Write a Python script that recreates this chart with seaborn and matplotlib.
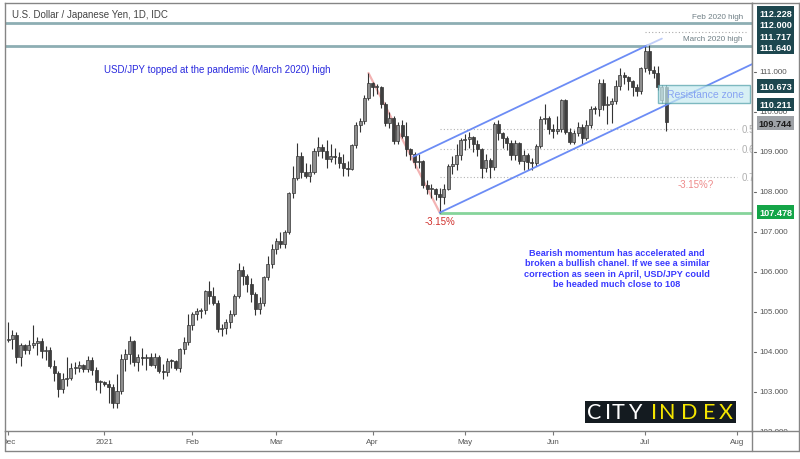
import numpy as np
import pandas as pd
import matplotlib
matplotlib.use("Agg")
import matplotlib.pyplot as plt
import seaborn as sns
from matplotlib.patches import Rectangle
from matplotlib.lines import Line2D
from matplotlib.transforms import Bbox, TransformedBbox

# ---------------- data ----------------
dates = pd.bdate_range("2020-12-01", "2021-07-08")

opens = [
    # Dec
    104.30,104.33,104.43,103.86,104.16,104.05,104.16,104.22,104.27,104.02,104.05,103.64,103.48,103.08,103.33,103.35,103.60,103.60,103.67,103.56,103.80,103.55,103.24,
    # Jan
    103.25,103.20,103.13,102.71,103.03,103.82,103.94,104.26,103.75,103.88,103.85,103.87,103.68,103.88,103.53,103.49,103.78,103.76,103.60,104.06,104.25,
    # Feb
    104.68,104.95,105.03,105.04,105.52,105.40,105.22,104.57,104.59,104.74,104.95,105.40,106.05,105.90,105.70,105.44,105.08,105.23,105.87,106.19,
    # Mar
    106.57,106.76,106.69,107.00,107.96,108.35,108.89,108.49,108.40,108.50,109.03,109.13,109.03,108.83,108.89,108.88,108.72,108.59,108.58,109.16,109.66,109.78,110.35,
    # Apr
    110.72,110.62,110.62,110.19,109.73,109.85,109.27,109.67,109.39,109.06,108.94,108.74,108.78,108.17,108.08,108.08,107.95,107.88,108.08,108.65,108.69,108.93,
    # May
    109.30,109.31,109.37,109.20,109.08,108.60,108.80,108.62,109.69,109.46,109.35,109.22,108.91,109.21,108.76,108.92,108.74,108.73,109.14,109.83,109.84,
    # Jun
    109.56,109.52,109.56,110.30,109.50,109.24,109.48,109.63,109.34,109.67,110.07,110.06,110.71,110.17,110.20,110.28,110.65,110.93,110.87,110.77,110.62,110.53,
    # Jul
    111.09,111.53,111.05,110.97,110.30,110.62,
]
highs = [
    104.75,104.55,104.50,104.22,104.20,104.30,104.66,104.38,104.34,104.15,104.12,103.80,103.53,103.48,103.88,103.72,103.75,103.78,103.70,103.89,103.86,103.62,103.30,
    103.28,103.30,103.20,103.44,103.95,104.08,104.40,104.30,103.95,104.10,103.95,103.96,103.98,103.92,103.70,103.85,103.82,103.80,104.10,104.38,104.95,
    105.00,105.10,105.10,105.55,105.77,105.62,105.30,104.70,104.82,105.05,105.45,106.22,106.15,105.95,105.85,105.50,105.38,105.90,106.40,106.70,
    106.85,107.00,107.05,108.00,108.65,109.23,109.00,108.72,108.70,109.10,109.36,109.20,109.30,109.20,109.10,109.00,108.95,108.78,109.20,109.75,109.85,110.42,110.97,
    110.75,110.70,110.65,110.25,110.00,109.90,109.75,109.80,109.75,109.10,109.00,108.95,108.80,108.30,108.20,108.10,108.10,108.20,108.70,108.90,109.20,109.35,
    109.45,109.50,109.40,109.30,109.10,108.95,108.85,109.75,109.80,109.50,109.40,109.30,109.30,109.25,109.05,108.98,108.85,109.20,109.90,110.20,109.90,
    109.70,109.90,110.33,110.33,109.60,109.55,109.75,109.70,109.80,110.15,110.15,110.82,110.82,110.40,110.35,110.80,111.10,111.00,110.90,110.80,110.70,111.12,
    111.64,111.66,111.15,111.15,110.68,110.66,
]
lows = [
    104.25,104.07,103.73,103.65,103.95,103.95,104.09,103.92,103.85,103.80,103.60,103.28,102.87,102.96,103.15,103.30,103.45,103.50,103.50,103.50,103.42,103.05,102.98,
    103.15,102.72,102.60,102.59,102.95,103.52,103.70,103.65,103.52,103.68,103.55,103.65,103.60,103.47,103.32,103.40,103.60,103.55,103.50,103.95,104.18,
    104.55,104.80,104.85,104.95,105.20,105.18,104.50,104.40,104.45,104.60,104.90,105.35,105.68,105.50,105.25,104.92,104.95,105.15,105.80,106.10,
    106.45,106.60,106.60,106.95,107.85,108.30,108.35,108.35,108.25,108.45,108.90,108.85,108.60,108.75,108.70,108.60,108.40,108.40,108.55,109.10,109.50,109.70,110.30,
    110.40,110.45,110.10,109.65,109.60,109.20,109.20,109.35,108.90,108.80,108.60,108.60,108.10,107.95,107.85,107.80,107.48,107.70,108.05,108.45,108.55,108.80,
    109.05,109.10,109.00,108.90,108.35,108.50,108.35,108.55,109.30,109.10,109.05,108.80,108.80,108.70,108.55,108.55,108.55,108.65,109.10,109.70,109.45,
    109.35,109.45,109.50,109.45,109.20,109.20,109.40,109.20,109.30,109.60,109.95,109.90,110.05,109.70,109.72,110.20,110.55,110.70,110.55,110.40,110.40,110.45,
    111.00,110.95,110.85,110.55,110.22,109.52,
]
closes = [
    104.33,104.43,103.86,104.16,104.05,104.16,104.22,104.27,104.02,104.05,103.64,103.48,103.08,103.33,103.35,103.60,103.60,103.67,103.56,103.80,103.55,103.24,103.25,
    103.20,103.13,102.71,103.03,103.82,103.94,104.26,103.75,103.88,103.85,103.87,103.68,103.88,103.53,103.49,103.78,103.76,103.60,104.06,104.25,104.68,
    104.95,105.03,105.04,105.52,105.40,105.22,104.57,104.59,104.74,104.95,105.40,106.05,105.90,105.70,105.44,105.08,105.23,105.87,106.19,106.57,
    106.76,106.69,107.00,107.96,108.35,108.89,108.49,108.40,108.50,109.03,109.13,109.03,108.83,108.89,108.88,108.72,108.59,108.58,109.16,109.66,109.78,110.35,110.72,
    110.62,110.62,110.19,109.73,109.85,109.27,109.67,109.39,109.06,108.94,108.74,108.78,108.17,108.08,108.08,107.95,107.88,108.08,108.65,108.69,108.93,109.30,
    109.31,109.37,109.20,109.08,108.60,108.80,108.62,109.69,109.46,109.35,109.22,108.91,109.21,108.76,108.92,108.74,108.73,109.14,109.83,109.84,109.56,
    109.52,109.56,110.30,109.50,109.24,109.48,109.63,109.34,109.67,110.07,110.06,110.71,110.17,110.20,110.28,110.65,110.93,110.87,110.77,110.62,110.53,111.09,
    111.53,111.05,110.97,110.62,110.62,109.744,
]

month_labels = ["Dec", "2021", "Feb", "Mar", "Apr", "May", "Jun", "Jul", "Aug"]
y_ticks = [102, 103, 104, 105, 106, 107, 108, 109, 110, 111]

# key levels
feb2020_high = 112.228
mar2020_level = 112.000
channel_top_level = 111.640
res_top, res_bot = 110.673, 110.211
last_price = 109.744
april_low = 107.478
fib_levels = [109.57, 109.07, 108.37]
fib_names = ["0.5", "0.6", "0.7"]   # visible part of the fib labels

# channel anchors (bar index, price)
upper_channel = ([96.7, 152.5], [108.88, 111.66])
upper_ext = ([152.5, 156.0], [111.66, 111.83])
lower_channel = ([103.0, 177.5], [107.48, 111.19])
april_drop = ([86.0, 103.0], [110.97, 107.48])

price_labels = ["112.228", "112.000", "111.717", "111.640", "110.673", "110.211", "109.744", "107.478"]
label_y = [112.47, 112.19, 111.89, 111.62, 110.64, 110.18, 109.72, 107.49]
label_bg = ["#1d474f"] * 6 + ["#9ea2a7", "#14a548"]
label_fg = ["white"] * 6 + ["#1a1a1a", "white"]

df = pd.DataFrame({"date": dates, "open": opens, "high": highs, "low": lows, "close": closes})
df["i"] = np.arange(len(df))

# ---------------- figure ----------------
sns.set_theme(style="white")
plt.rcParams["font.family"] = ["Liberation Sans", "DejaVu Sans"]

W, H = 800, 460
fig = plt.figure(figsize=(8, 4.6), dpi=100)
L, R, T, B = 5, 752, 4, 432
ax = fig.add_axes([L / W, 1 - B / H, (R - L) / W, (B - T) / H])
ax_r = fig.add_axes([R / W, 1 - B / H, (799 - R) / W, (B - T) / H])

XMIN, XMAX = -0.72, 177.5
YMIN, YMAX = 102.02, 112.72
ax.set_xlim(XMIN, XMAX)
ax.set_ylim(YMIN, YMAX)
ax_r.set_ylim(YMIN, YMAX)
ax_r.set_xlim(0, 47)

frame_c = "#858585"
for a in (ax, ax_r):
    for s in a.spines.values():
        s.set_color(frame_c)
        s.set_linewidth(1.0)
ax_r.set_xticks([])
ax_r.set_yticks([])
ax.set_yticks([])

# candles
up = df["close"] >= df["open"]
body = (df["close"] - df["open"]).abs().clip(lower=0.025)
bot = df[["open", "close"]].min(axis=1)
ax.vlines(df["i"], df["low"], df["high"], color="#333333", lw=0.8, zorder=3)
ax.bar(df["i"][up], body[up], bottom=bot[up], width=0.72, color="#8e8e8e",
       edgecolor="#333333", linewidth=0.5, zorder=4)
ax.bar(df["i"][~up], body[~up], bottom=bot[~up], width=0.72, color="#3f3f3f",
       edgecolor="#333333", linewidth=0.5, zorder=4)

# horizontal levels
ax.axhline(feb2020_high, color="#8daeb3", lw=2, zorder=2)
ax.axhline(channel_top_level, color="#8daeb3", lw=2, zorder=2)
ax.plot([152, 176], [mar2020_level, mar2020_level], color="#aaaaaa", lw=0.8, ls=(0, (1, 2)), zorder=2)
ax.plot([103, XMAX], [april_low, april_low], color="#86d49b", lw=2, zorder=2)
for lv, nm in zip(fib_levels, fib_names):
    ax.plot([103, 174], [lv, lv], color="#b3b3b3", lw=0.8, ls=(0, (1, 2)), zorder=2)
    ax.text(175.0, lv, nm, color="#b0b0b0", fontsize=7, va="center", ha="left", clip_on=True)

# channel & drop lines via seaborn
sns.lineplot(x=april_drop[0], y=april_drop[1], ax=ax, color="#f3b3b3", lw=1.6, zorder=2)
sns.lineplot(x=upper_channel[0], y=upper_channel[1], ax=ax, color="#6c8cf5", lw=1.3, zorder=5)
sns.lineplot(x=upper_ext[0], y=upper_ext[1], ax=ax, color="#bfcdf8", lw=1.3, zorder=5)
sns.lineplot(x=lower_channel[0], y=lower_channel[1], ax=ax, color="#6c8cf5", lw=1.3, zorder=5)
ax.set_xlabel("")
ax.set_ylabel("")

# resistance zone
ax.add_patch(Rectangle((155.0, res_bot), XMAX - 155.4, res_top - res_bot,
                       facecolor="#c6ebf0", edgecolor="#4f9fa9", lw=1.0, alpha=0.7, zorder=6))
ax.text(166.3, (res_top + res_bot) / 2, "Resistance zone", color="#87a3f2", fontsize=7.5,
        ha="center", va="center", zorder=7)

# level texts
ax.text(175.3, 112.39, "Feb 2020 high", color="#6f7f85", fontsize=5.8, ha="right", va="center")
ax.text(175.3, 111.84, "March 2020 high", color="#6f7f85", fontsize=5.8, ha="right", va="center")
ax.text(103.0, 107.26, "-3.15%", color="#d0302c", fontsize=7, ha="center", va="center")
ax.text(164.0, 108.19, "-3.15%?", color="#ee8a8a", fontsize=7, ha="center", va="center")

# x ticks at first bar of each month
all_days = pd.bdate_range("2020-12-01", "2021-08-06")
per = all_days.to_period("M")
first_idx = [int(np.where(per == p)[0][0]) for p in per.unique()]
ax.set_xticks(first_idx)
ax.set_xticklabels(month_labels)
ax.tick_params(axis="x", direction="out", length=3, width=0.8, color="#777777",
               labelsize=5.8, labelcolor="#555555", pad=2, bottom=True)
clipbox = TransformedBbox(Bbox([[L / W, 0], [1, 1]]), fig.transFigure)
for lab in ax.get_xticklabels():
    lab.set_clip_box(clipbox)
    lab.set_clip_on(True)

# right price scale
for v in y_ticks:
    ax_r.plot([1.8, 4.2], [v, v], color="#666666", lw=0.8, clip_on=True)
    ax_r.text(7.5, v, f"{v:.3f}", color="#555555", fontsize=5.8, ha="left", va="center", clip_on=True)
for s, yv, bg, fg in zip(price_labels, label_y, label_bg, label_fg):
    ax_r.text(23.5, yv, s, color=fg, fontsize=6.6, fontweight="bold", ha="center", va="center",
              bbox=dict(boxstyle="square,pad=0.25", fc=bg, ec="none"), zorder=5)

# bottom strip frame
def fline(x0, y0, x1, y1):
    fig.add_artist(Line2D([x0 / W, x1 / W], [1 - y0 / H, 1 - y1 / H], color=frame_c, lw=1.0))
fline(L, 452, 799, 452)
fline(L, B, L, 452)
fline(799, B, 799, 452)
fline(R, B, R, 452)

# title & annotations
fig.text(12 / W, 1 - 15 / H, "U.S. Dollar / Japanese Yen, 1D, IDC", color="#444444",
         fontsize=7, ha="left", va="center")
fig.text(217 / W, 1 - 70 / H, "USD/JPY topped at the pandemic (March 2020) high",
         color="#2a2ade", fontsize=7, ha="center", va="center")
fig.text(617 / W, 1 - 269 / H,
         "Bearish momentum has accelerated and\nbroken a bullish chanel. If we see a similar\n"
         "correction as seen in April, USD/JPY could\nbe headed much close to 108",
         color="#3a3aff", fontsize=6.6, fontweight="bold", ha="center", va="center", linespacing=1.2)

# CITY INDEX logo
fig.add_artist(Rectangle((585 / W, 1 - 424 / H), (736 - 585) / W, 22 / H,
                         transform=fig.transFigure, facecolor="#141b20", edgecolor="none"))
letters = [("C", 587, "white"), ("I", 605, "white"), ("T", 612, "white"), ("Y", 628, "white"),
           ("I", 651, "#f5e600"), ("N", 659, "#f5e600"), ("D", 681, "#f5e600"),
           ("E", 703, "#f5e600"), ("X", 719, "#f5e600")]
for ch, xp, col in letters:
    fig.text(xp / W, 1 - 413 / H, ch, color=col, fontsize=15.5, ha="left", va="center",
             family=["Lato", "DejaVu Sans"], fontweight="normal")

fig.savefig("out.png", dpi=100)
